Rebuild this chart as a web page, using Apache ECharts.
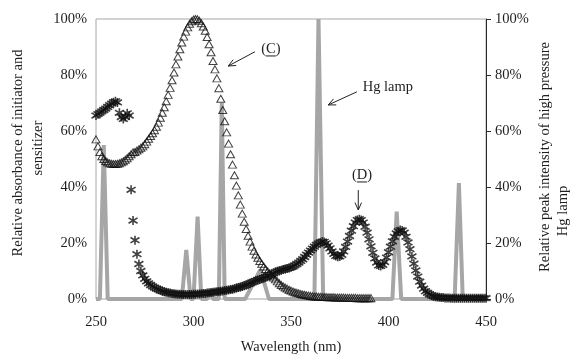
<!DOCTYPE html>
<html>
<head>
<meta charset="utf-8">
<script src="https://cdn.jsdelivr.net/npm/echarts@6.0.0/dist/echarts.min.js"></script>
<style>
  html, body { margin: 0; padding: 0; background: #fff; }
  #chart { width: 571px; height: 354px; }
</style>
</head>
<body>
<div id="chart"></div>
<script>
// axis ticks
const xTicks = [250, 300, 350, 400, 450];
const yTicks = [0, 20, 40, 60, 80, 100];

// (C) initiator absorbance, 1 nm steps starting at 250 nm
const startC = 250;
const absC = [
  57, 54.5, 52.5, 51, 50, 49.3, 48.8, 48.5, 48.3, 48.2,
  48.2, 48.3, 48.5, 48.8, 49.2, 49.7, 50.3, 51, 51.7, 52.4,
  52.5, 53, 53.5, 54, 54.5, 55.3, 56.2, 57.2, 58.2, 59.2,
  60.3, 61.5, 63, 64.7, 66.5, 68.5, 70.6, 72.9, 75.4, 78.1,
  80.9, 83.8, 86.6, 89.2, 91.6, 93.7, 95.5, 97, 98.3, 99.2,
  99.8, 100, 99.9, 99.4, 98.5, 97.3, 95.8, 93.6, 91, 88.1,
  85, 82, 78.8, 75.3, 71.5, 67.5, 63.5, 59.5, 55.5, 51.7,
  48, 44.2, 40.5, 37, 33.7, 30.5, 27.6, 25, 22.6, 20.5,
  18.7, 17.2, 15.9, 14.7, 13.6, 12.6, 11.6, 10.7, 9.9, 9.1,
  8.4, 7.7, 7, 6.3, 5.6, 5, 4.5, 4.1, 3.7, 3.3,
  3, 2.7, 2.4, 2.2, 2, 1.8, 1.6, 1.5, 1.3, 1.2,
  1.1, 1, 0.9, 0.9, 0.8, 0.8, 0.7, 0.7, 0.7, 0.6,
  0.6, 0.6, 0.6, 0.5, 0.5, 0.5, 0.5, 0.5, 0.4, 0.4,
  0.4, 0.4, 0.4, 0.4, 0.3, 0.3, 0.3, 0.3, 0.3, 0.3,
  0.3, 0.3
];

// (D) sensitizer absorbance, 1 nm steps starting at 250 nm
const startD = 250;
const absD = [
  65.5, 66, 66.5, 67, 67.5, 68, 68.6, 69.2, 69.8, 70.3,
  70.6, 70.2, 66.5, 65, 64.3, 65, 66.3, 65.5, 39, 28,
  21, 16, 12.5, 10, 8.4, 7.2, 6.3, 5.6, 5, 4.5,
  4.1, 3.7, 3.4, 3.1, 2.8, 2.6, 2.4, 2.2, 2.1, 2,
  1.9, 1.8, 1.7, 1.7, 1.6, 1.6, 1.6, 1.6, 1.6, 1.6,
  1.7, 1.7, 1.8, 1.8, 1.9, 2, 2, 2.1, 2.2, 2.3,
  2.4, 2.5, 2.6, 2.7, 2.8, 2.9, 3, 3.1, 3.2, 3.4,
  3.5, 3.7, 3.9, 4.1, 4.3, 4.5, 4.7, 5, 5.3, 5.6,
  5.9, 6.2, 6.5, 6.8, 7, 7.2, 7.5, 7.8, 8.1, 8.4,
  8.8, 9.2, 9.6, 9.9, 10.1, 10.3, 10.5, 10.7, 10.9, 11.1,
  11.3, 11.6, 12, 12.5, 13, 13.6, 14.2, 15, 15.8, 16.6,
  17.3, 18, 18.7, 19.3, 19.8, 20.2, 20.5, 20.4, 19.9, 19.1,
  18.1, 17, 16.1, 15.4, 15.1, 15.2, 15.8, 17, 18.6, 20.5,
  22.5, 24.4, 26, 27.3, 28.2, 28.5, 28.2, 27.3, 25.8, 23.7,
  21.3, 18.8, 16.5, 14.5, 13, 12, 11.8, 12.2, 13.2, 14.8,
  16.7, 18.7, 20.6, 22.2, 23.4, 24.2, 24.6, 24.5, 23.7, 22.2,
  20.2, 17.8, 15.2, 12.6, 10.2, 8, 6.2, 4.8, 3.7, 2.8,
  2.2, 1.7, 1.3, 1, 0.8, 0.7, 0.6, 0.5, 0.5, 0.4,
  0.4, 0.4, 0.3, 0.3, 0.3, 0.3, 0.3, 0.3, 0.3, 0.3,
  0.3, 0.3, 0.3, 0.3, 0.3, 0.3, 0.3, 0.3, 0.3, 0.3,
  0.3
];

// Hg lamp relative peak intensity (wavelength, %)
const hgWl  = [250, 252, 254, 256, 294, 296.3, 298.5, 300, 302.1, 304, 307, 308.5, 310, 313, 314.5, 316,
               326.5, 334.3, 338.7, 362, 364.1, 366.5, 402, 404.2, 406.5, 433, 434, 436.1, 438, 439, 450];
const hgVal = [0, 0, 55, 0, 0, 17.5, 0, 0, 29.4, 0, 0, 2.5, 0, 0, 70, 0,
               0, 10.5, 0, 0, 100, 0, 0, 31.2, 0, 0, 1.5, 41.4, 1.5, 0, 0];

// annotation anchors in data units [wavelength, %]
const noteC  = { text: '(C)', at: [339.7, 89.3], from: [331.5, 88.3], to: [317.8, 83.2] };
const noteHg = { text: 'Hg lamp', at: [399.7, 75.7], from: [383.8, 74.0], to: [369.1, 69.3] };
const noteD  = { text: '(D)', at: [386.4, 44.3], from: [384.5, 38.9], to: [384.5, 31.8] };

const FONT = '"Liberation Serif", "DejaVu Serif", serif';
const TXT = '#1e1e1e';

const chart = echarts.init(document.getElementById('chart'));

const pairsC = absC.map((v, i) => [startC + i, v]);
const pairsD = absD.map((v, i) => [startD + i, v]);
const pairsHg = hgWl.map((w, i) => [w, hgVal[i]]);

const pct = v => v + '%';

chart.setOption({
  animation: false,
  grid: {
    left: 96, right: 85, top: 19, bottom: 55,
    containLabel: false, outerBoundsMode: 'none',
    show: true, borderColor: '#a6a6a6', borderWidth: 1
  },
  xAxis: {
    type: 'value',
    min: xTicks[0], max: xTicks[xTicks.length - 1], interval: xTicks[1] - xTicks[0],
    axisLine: { show: false },
    axisTick: { show: false },
    splitLine: { show: false },
    axisLabel: { margin: 16, color: TXT, fontFamily: FONT, fontSize: 14.5 },
    name: 'Wavelength (nm)',
    nameLocation: 'middle',
    nameGap: 41,
    nameTextStyle: { color: TXT, fontFamily: FONT, fontSize: 14.5 }
  },
  yAxis: [
    {
      type: 'value',
      min: yTicks[0], max: yTicks[yTicks.length - 1], interval: yTicks[1] - yTicks[0],
      axisLine: { show: false },
      axisTick: { show: false },
      splitLine: { show: false },
      axisLabel: { margin: 9, color: TXT, fontFamily: FONT, fontSize: 14.5, formatter: pct }
    },
    {
      type: 'value',
      position: 'right',
      min: yTicks[0], max: yTicks[yTicks.length - 1], interval: yTicks[1] - yTicks[0],
      axisLine: { show: true, lineStyle: { color: '#2a2a2a', width: 1 } },
      axisTick: { show: true, inside: false, length: 5, lineStyle: { color: '#2a2a2a' } },
      splitLine: { show: false },
      axisLabel: { margin: 9, color: TXT, fontFamily: FONT, fontSize: 14.5, formatter: pct }
    }
  ],
  series: [
    {
      name: 'Hg lamp',
      type: 'line',
      yAxisIndex: 1,
      data: pairsHg,
      symbol: 'none',
      lineStyle: { color: '#a6a6a6', width: 4, join: 'bevel' },
      z: 1
    },
    {
      name: '(C)',
      type: 'scatter',
      data: pairsC,
      symbol: 'triangle',
      symbolSize: [8, 7],
      clip: false,
      itemStyle: { color: 'rgba(0,0,0,0)', borderColor: '#111', borderWidth: 1 },
      z: 3
    },
    {
      name: '(D)',
      type: 'scatter',
      data: pairsD,
      symbol: 'path://M5,0L5,10M0,2L10,8M0,8L10,2',
      symbolSize: 9,
      clip: false,
      itemStyle: { color: 'rgba(0,0,0,0)', borderColor: '#111', borderWidth: 1.6 },
      z: 4
    }
  ]
});

// annotations and rotated axis titles
const toPx = p => chart.convertToPixel({ seriesIndex: 1 }, p);

function textEl(str, x, y, rot) {
  return {
    type: 'text', x: x, y: y, rotation: rot || 0, z: 10,
    style: {
      text: str, fill: TXT, font: '14.5px ' + FONT,
      align: 'center', verticalAlign: 'middle',
      textAlign: 'center', textVerticalAlign: 'middle'
    }
  };
}

function arrowEls(from, to) {
  const a = toPx(from), b = toPx(to);
  const dx = b[0] - a[0], dy = b[1] - a[1];
  const len = Math.sqrt(dx * dx + dy * dy);
  const ux = dx / len, uy = dy / len;
  const head = 8, ang = 0.42;
  const back = (s) => [
    b[0] - head * (ux * Math.cos(ang) - s * uy * Math.sin(ang)),
    b[1] - head * (uy * Math.cos(ang) + s * ux * Math.sin(ang))
  ];
  return [
    { type: 'line', z: 10, shape: { x1: a[0], y1: a[1], x2: b[0], y2: b[1] }, style: { stroke: '#222', lineWidth: 1 } },
    { type: 'polyline', z: 10, shape: { points: [back(1), b, back(-1)] }, style: { stroke: '#222', lineWidth: 1, fill: null } }
  ];
}

function underline(note, dx0, dx1, dy) {
  const c = toPx(note.at);
  return { type: 'line', z: 10, shape: { x1: c[0] + dx0, y1: c[1] + dy, x2: c[0] + dx1, y2: c[1] + dy }, style: { stroke: TXT, lineWidth: 1 } };
}

const els = [];
[noteC, noteHg, noteD].forEach(n => {
  const c = toPx(n.at);
  els.push(textEl(n.text, c[0], c[1]));
  els.push(...arrowEls(n.from, n.to));
});
els.push(underline(noteC, -5, 5, 7));
els.push(underline(noteD, -5, 5, 7));

// y axis titles (two lines each, reading upwards)
els.push(textEl('Relative absorbance of initiator and', 18, 153, Math.PI / 2));
els.push(textEl('sensitizer', 38, 148, Math.PI / 2));
els.push(textEl('Relative peak intensity of high pressure', 545, 157, Math.PI / 2));
els.push(textEl('Hg lamp', 563, 211, Math.PI / 2));

chart.setOption({ graphic: els });

window.addEventListener('resize', () => chart.resize());
</script>
</body>
</html>
